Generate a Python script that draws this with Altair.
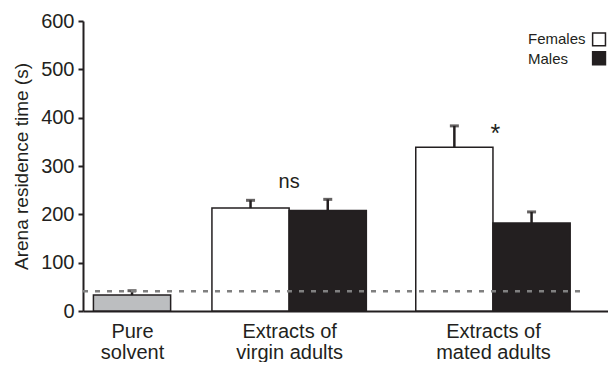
import json
import altair as alt
import pandas as pd

# ---- data ----
group_lines = [["Pure", "solvent"], ["Extracts of", "virgin adults"], ["Extracts of", "mated adults"]]
bar_series = ["Solvent", "Females", "Males", "Females", "Males"]
bar_group = [0, 1, 1, 2, 2]
bar_mean = [33, 213, 208, 339, 182]
bar_err_top = [42, 229, 231, 383, 205]
control_level = 41
annot_group = [1, 2]
annot_text = ["ns", "*"]
annot_level = [254, 350]
annot_size = [20, 25]
legend_series = ["Females", "Males"]

# ---- layout (x in bar-width units) ----
group_center = [0.635, 2.67, 5.31]
X_MAX = 6.8
DASH_END = 6.5
INK = "#231f20"

rows = []
for s, g, m, e in zip(bar_series, bar_group, bar_mean, bar_err_top):
    c = group_center[g]
    if s == "Solvent":
        x0, x1 = c - 0.5, c + 0.5
    elif s == "Females":
        x0, x1 = c - 1.0, c
    else:
        x0, x1 = c, c + 1.0
    rows.append({"series": s, "x0": x0, "x1": x1, "xc": (x0 + x1) / 2, "mean": m, "err": e})
bars = pd.DataFrame(rows)

annots = pd.DataFrame({"x": [group_center[g] + (0.03 if t == "*" else 0) for g, t in zip(annot_group, annot_text)],
                       "y": annot_level, "t": annot_text, "s": annot_size})
ctrl = pd.DataFrame({"x0": [0], "x1": [DASH_END], "y": [control_level]})
leg = pd.DataFrame({"series": legend_series, "tx": [5.764, 5.764], "sx": [6.684, 6.684],
                    "ty": [552, 512], "sy": [562, 523]})

color_scale = alt.Scale(domain=["Solvent", "Females", "Males"], range=["#bcbec0", "#ffffff", INK])

label_expr = (
    f"datum.value < 1.5 ? {json.dumps(group_lines[0])} : "
    f"(datum.value < 4 ? {json.dumps(group_lines[1])} : {json.dumps(group_lines[2])})"
)

x_scale = alt.Scale(domain=[0, X_MAX], nice=False, zero=False)
y_scale = alt.Scale(domain=[0, 600], nice=False)

x_axis = alt.Axis(values=group_center, labelExpr=label_expr, ticks=False, grid=False, title=None,
                  domainColor=INK, domainWidth=2, labelFontSize=20, labelPadding=10,
                  labelLineHeight=21, labelOverlap=False, labelFlush=False, labelBound=False,
                  labelColor=INK)
y_axis = alt.Axis(values=list(range(0, 700, 100)), grid=False, title="Arena residence time (s)",
                  domainColor=INK, domainWidth=2, tickColor=INK, tickWidth=2, tickSize=5,
                  labelFontSize=20, labelPadding=4, labelColor=INK, titleFontSize=19,
                  titleFontWeight="normal", titleColor=INK, titlePadding=9)

base = alt.Chart(bars)

bar_layer = base.mark_bar(stroke=INK, strokeWidth=1.5).encode(
    x=alt.X("x0:Q", scale=x_scale, axis=x_axis),
    x2="x1:Q",
    y=alt.Y("mean:Q", scale=y_scale, axis=y_axis),
    y2=alt.datum(0),
    fill=alt.Fill("series:N", scale=color_scale, legend=None),
)

stem = base.mark_rule(color=INK, strokeWidth=2.5).encode(
    x="xc:Q", y="mean:Q", y2="err:Q"
)
cap = base.mark_tick(color=INK, orient="horizontal", size=9, thickness=3).encode(
    x="xc:Q", y="err:Q"
)

dash = alt.Chart(ctrl).mark_rule(color="#808080", strokeWidth=2.5, strokeDash=[5, 7]).encode(
    x="x0:Q", x2="x1:Q", y="y:Q"
)

annot = alt.Chart(annots).mark_text(color=INK, baseline="alphabetic").encode(
    x="x:Q", y="y:Q", text="t:N", size=alt.Size("s:Q", scale=None, legend=None)
)

leg_text = alt.Chart(leg).mark_text(fontSize=15, color=INK, align="left", baseline="alphabetic").encode(
    x="tx:Q", y="ty:Q", text="series:N"
)
leg_sym = alt.Chart(leg).mark_square(size=165, stroke=INK, strokeWidth=1.5, opacity=1).encode(
    x="sx:Q", y="sy:Q", fill=alt.Fill("series:N", scale=color_scale, legend=None)
)

chart = alt.layer(bar_layer, stem, cap, dash, annot, leg_text, leg_sym).properties(
    width=525, height=290,
    autosize=alt.AutoSizeParams(type="none"),
    padding={"left": 75, "top": 13, "right": 0, "bottom": 51},
).configure(font="Liberation Sans").configure_view(stroke=None)

chart.save("out.html", embed_options={"renderer": "svg", "actions": False})
